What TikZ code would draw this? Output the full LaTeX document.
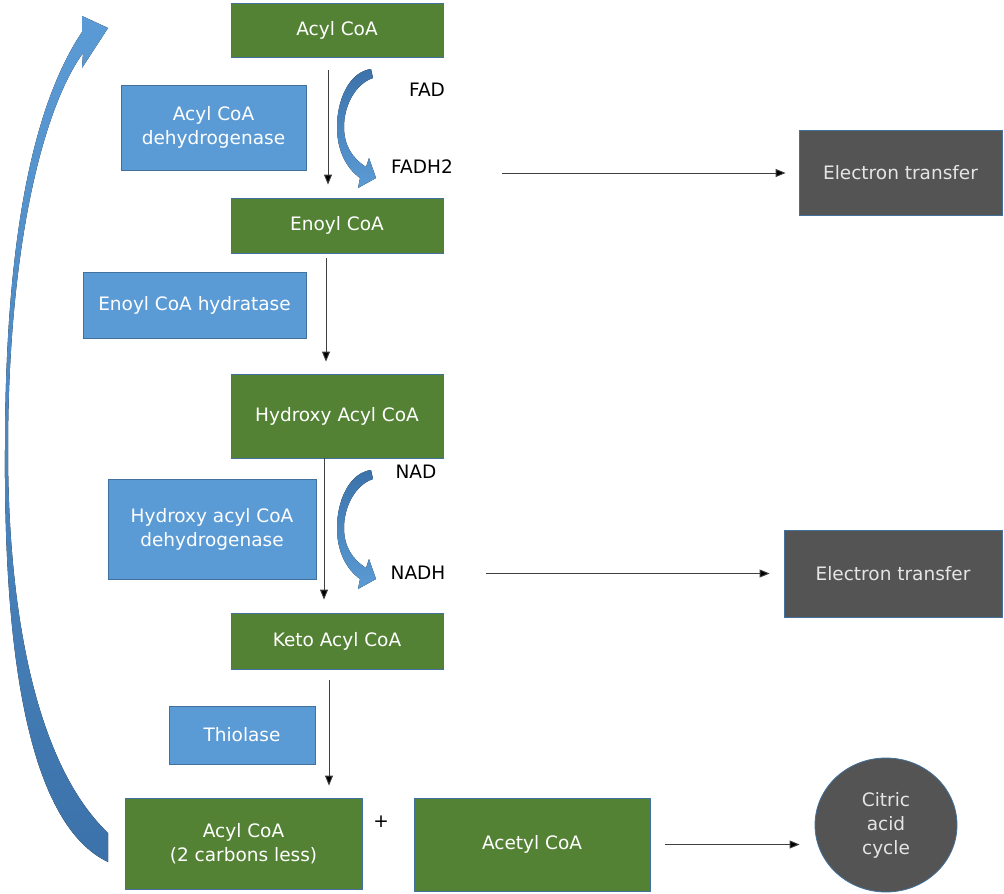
\documentclass[tikz,border=0pt]{standalone}
\usepackage{fontspec}
\setmainfont{DejaVu Sans}
\usetikzlibrary{arrows.meta,shapes.geometric}
\definecolor{grn}{HTML}{548235}
\definecolor{blu}{HTML}{5B9BD5}
\definecolor{bdr}{HTML}{41719C}
\definecolor{gry}{HTML}{545454}
\definecolor{dblu}{HTML}{3C72AA}
\begin{document}
\begin{tikzpicture}[x=1pt,y=-1pt,
  every node/.style={font=\fontsize{18.5}{24}\selectfont, align=center, inner sep=0pt},
  basebox/.style={rectangle, draw=bdr, line width=0.8pt, text=white},
  gbox/.style={basebox, fill=grn},
  bbox/.style={basebox, fill=blu},
  dbox/.style={basebox, fill=gry, text=white!90!black},
  lbl/.style={text=black},
  conn/.style={draw=black!75, line width=0.9pt, -{Triangle[length=10pt,width=8pt,fill=black]}},
  cband/.style={top color=dblu, bottom color=blu, draw=none}
]
\useasboundingbox (0,0) rectangle (1004,894);

% main green boxes
\node[gbox, minimum width=212pt, minimum height=54pt] (acyl) at (337,30) {Acyl CoA};
\node[gbox, minimum width=212pt, minimum height=55pt] (enoyl) at (337,225.5) {Enoyl CoA};
\node[gbox, minimum width=212pt, minimum height=84pt] (hydroxy) at (337,416) {Hydroxy Acyl CoA};
\node[gbox, minimum width=212pt, minimum height=56pt] (keto) at (337,641) {Keto Acyl CoA};
\node[gbox, minimum width=237pt, minimum height=91pt] (acyltwo) at (243.5,843.5) {Acyl CoA\\(2 carbons less)};
\node[gbox, minimum width=236pt, minimum height=93pt] (acetyl) at (532,844.5) {Acetyl CoA};

% enzyme boxes
\node[bbox, minimum width=185pt, minimum height=85pt] (acd) at (213.5,127.5) {Acyl CoA\\dehydrogenase};
\node[bbox, minimum width=223pt, minimum height=66pt] (ech) at (194.5,305) {Enoyl CoA hydratase};
\node[bbox, minimum width=208pt, minimum height=100pt] (hacd) at (212,529) {Hydroxy acyl CoA\\dehydrogenase};
\node[bbox, minimum width=146pt, minimum height=58pt] (thio) at (242,735) {Thiolase};

% right side
\node[dbox, minimum width=203pt, minimum height=85pt] (etone) at (900.5,173) {Electron transfer};
\node[dbox, minimum width=218pt, minimum height=87pt] (ettwo) at (893,573.5) {Electron transfer};
\node[ellipse, draw=bdr, line width=0.8pt, fill=gry, text=white!90!black, minimum width=142pt, minimum height=134pt] (citric) at (886,825) {Citric\\acid\\cycle};

% labels
\node[lbl] (fad) at (427,90) {FAD};
\node[lbl] (fadh) at (422,167) {FADH2};
\node[lbl] (nad) at (416,472) {NAD};
\node[lbl] (nadh) at (418,573) {NADH};
\node[lbl] (plus) at (381,822) {+};

% straight connectors
\draw[conn, shorten <=13pt, shorten >=13pt] ([xshift=-9pt]acyl.south) -- ([xshift=-9pt]enoyl.north);
\draw[conn, shorten <=5pt, shorten >=12pt] ([xshift=-11pt]enoyl.south) -- ([xshift=-11pt]hydroxy.north);
\draw[conn, shorten <=0pt, shorten >=13pt] ([xshift=-13pt]hydroxy.south) -- ([xshift=-13pt]keto.north);
\draw[conn, shorten <=11pt, shorten >=12pt] ([xshift=-8pt]keto.south) -- ([xshift=-8pt]acyltwo.north -| keto.south);
\draw[conn, shorten <=49pt, shorten >=13pt] (fadh.east |- etone.west) -- (etone.west);
\draw[conn, shorten <=40pt, shorten >=14pt] (nadh.east |- ettwo.west) -- (ettwo.west);
\draw[conn, shorten <=15pt, shorten >=15pt] (acetyl.east) -- (citric.west |- acetyl.east);

% small curved arrows
\foreach \dy in {0,401}{
\begin{scope}[shift={(0,\dy)}]
\fill[cband] (371,69) .. controls (349,72) and (337,100) .. (337,127)
  .. controls (337,150) and (346,168) .. (360,178) -- (358,188) -- (376,178) -- (369,158) -- (366,167)
  .. controls (352,158) and (344,145) .. (344,127)
  .. controls (344,106) and (355,84) .. (373,78) -- cycle;
\end{scope}
}

% big return arrow
\fill[top color=blu, bottom color=dblu, draw=none]
  (108,862) .. controls (20,820) and (4,620) .. (5,450)
  .. controls (5,250) and (30,110) .. (82,32)
  -- (82,16) -- (108,28) -- (82,68) -- (83,53)
  .. controls (42,110) and (8,250) .. (8,450)
  .. controls (8,600) and (32,760) .. (108,833) -- cycle;
\end{tikzpicture}
\end{document}
